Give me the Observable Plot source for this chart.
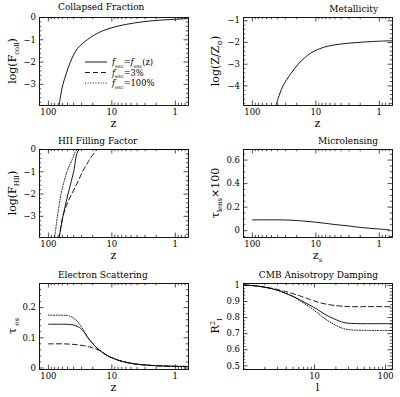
<!DOCTYPE html>
<html><head><meta charset="utf-8">
<script src="https://cdn.jsdelivr.net/npm/d3@7"></script>
<script src="https://cdn.jsdelivr.net/npm/@observablehq/plot@0.6"></script>
<style>
body{margin:0;background:#fff}
#c{position:relative;width:400px;height:397px}
#c svg{position:absolute;overflow:visible}
</style></head><body><div id="c"></div>
<script>
// ---------- data ----------
// Collapsed fraction, log F_coll vs z
const collZ = [68, 64, 59, 52, 45, 35, 24.4, 18.7, 14, 10, 6, 3.2, 2, 1, 0.62];
const collLogF = [-4, -3.5, -3, -2.5, -2, -1.4, -1, -0.78, -0.6, -0.46, -0.31, -0.19, -0.13, -0.08, -0.05];
// Metallicity, log(Z/Zsun) vs z
const metZ = [42.5, 38, 33, 25, 19, 15, 12.2, 10, 7.5, 5.8, 4, 3, 2, 1, 0.6];
const metLogZ = [-4.9, -4.45, -4, -3.45, -3, -2.7, -2.5, -2.36, -2.22, -2.14, -2.07, -2.03, -1.99, -1.94, -1.92];
// HII filling factor, log F_HII vs z (three escape fractions)
const hiiSolidZ = [68, 59, 49, 40, 32.5, 20, 10, 1, 0.6];
const hiiSolidF = [-4, -3, -2, -1, 0, 0, 0, 0, 0];
const hiiDashZ = [68, 59, 50, 43, 35, 29, 23, 19.5, 16.9, 10, 1, 0.6];
const hiiDashF = [-4, -3, -2.4, -2, -1.5, -1, -0.5, -0.2, 0, 0, 0, 0];
const hiiDotZ = [80, 72, 63, 51, 42, 35, 20, 10, 1, 0.6];
const hiiDotF = [-4, -3, -2, -1, -0.45, 0, 0, 0, 0, 0];
// Microlensing, tau_lens x 100 vs z_s
const lensZ = [100, 50, 30, 20, 10, 5, 3, 2, 1, 0.7];
const lensTau = [0.092, 0.092, 0.091, 0.086, 0.072, 0.052, 0.04, 0.028, 0.014, 0.009];
// Electron scattering, tau_es vs z
const esSolidZ = [100, 60, 45, 38, 34, 31, 27, 24, 21, 18, 15, 12, 10, 8, 6, 4.5, 3.2, 2.2, 1.5, 1, 0.62];
const esSolidTau = [0.145, 0.145, 0.144, 0.141, 0.137, 0.131, 0.118, 0.101, 0.086, 0.07, 0.056, 0.042, 0.034, 0.026, 0.019, 0.014, 0.0105, 0.008, 0.0065, 0.0055, 0.005];
const esDotZ = [100, 60, 50, 44, 40, 35, 31, 28, 26, 24, 21, 18, 15, 12, 10, 8, 6, 4.5, 3.2, 2.2, 1.5, 1, 0.62];
const esDotTau = [0.175, 0.175, 0.174, 0.17, 0.165, 0.155, 0.14, 0.126, 0.112, 0.101, 0.086, 0.07, 0.056, 0.042, 0.034, 0.026, 0.019, 0.014, 0.0105, 0.008, 0.0065, 0.0055, 0.005];
const esDashZ = [100, 60, 45, 35, 28, 24, 21, 18.5, 16.5, 15, 12, 10, 8, 6, 4.5, 3.2, 2.2, 1.5, 1, 0.62];
const esDashTau = [0.08, 0.08, 0.079, 0.077, 0.074, 0.071, 0.068, 0.064, 0.06, 0.056, 0.042, 0.034, 0.026, 0.019, 0.014, 0.0105, 0.008, 0.0065, 0.0055, 0.005];
// CMB anisotropy damping, R_l^2 vs l
const cmbL = [1, 1.5, 2.15, 3, 3.7, 5, 6.3, 8.5, 10.9, 14, 18.7, 25.8, 32, 45, 70, 125];
const cmbSolidR = [1.003, 0.997, 0.986, 0.97, 0.955, 0.932, 0.909, 0.878, 0.851, 0.82, 0.793, 0.769, 0.764, 0.762, 0.762, 0.762];
const cmbDashR = [1.003, 0.997, 0.987, 0.975, 0.965, 0.948, 0.934, 0.914, 0.897, 0.885, 0.876, 0.87, 0.868, 0.868, 0.868, 0.868];
const cmbDotR = [1.003, 0.997, 0.986, 0.97, 0.955, 0.93, 0.903, 0.866, 0.83, 0.793, 0.758, 0.731, 0.724, 0.721, 0.72, 0.72];
// tick labels
const zTickLabels = [100, 10, 1];
const lTickLabels = [10, 100];
const legendLabels = [[["f", "it"], ["esc", "sub"], ["=", ""], ["f", "it"], ["esc", "sub"], ["(z)", ""]],
                      [["f", "it"], ["esc", "sub"], ["=3%", ""]],
                      [["f", "it"], ["esc", "sub"], ["=100%", ""]]];

// ---------- drawing ----------
const FONT = '"DejaVu Serif", serif';
const DASH = "5,3", DOT = "1,1.6";
const root = document.getElementById("c");

function logTicks(domain, major) {
  const [a, b] = d3.extent(domain), out = [];
  for (let e = -2; e <= 3; e++) for (let m = 1; m < 10; m++) {
    const v = m * 10 ** e;
    if (v >= a * 0.999 && v <= b * 1.001 && ((m === 1) === major)) out.push(v);
  }
  return out;
}
function linTicks(domain, step) {
  const [a, b] = d3.extent(domain), out = [];
  for (let k = Math.ceil(a / step - 1e-6); k * step <= b + 1e-9; k++) out.push(+(k * step).toFixed(6));
  return out;
}
function rich(sel, parts, size, subShift = 3) {
  let shift = 0;
  parts.forEach(([t, k]) => {
    const target = k === "sub" ? subShift : k === "sup" ? -4 : 0;
    const sp = sel.append("tspan").attr("dy", target - shift).text(t);
    shift = target;
    if (k === "sub" || k === "sup") sp.attr("font-size", size * 0.62);
    if (k === "it") sp.attr("font-style", "italic");
  });
}

function panel(cfg) {
  const col = cfg.col, row = cfg.row;
  const left = col * 200, top = [0, 133, 266][row], height = row === 2 ? 131 : 133;
  const mt = [17, 16, 17][row], mb = [28, 29, 28][row];
  const ml = col === 0 ? 39 : 43, mr = col === 0 ? 12 : 8;
  const Wp = 200 - ml - mr, Hp = height - mt - mb;
  const xMaj = logTicks(cfg.xDomain, true);
  const xMin = logTicks(cfg.xDomain, false);
  const yMaj = cfg.yMajor, yMin = linTicks(cfg.yDomain, cfg.yMinor).filter(v => !yMaj.some(m => Math.abs(m - v) < 1e-9));
  const tk = {stroke: "black", strokeWidth: 0.7};
  const marks = [
    Plot.tickX(xMaj, {x: d => d, insetTop: Hp - 4.5, ...tk}),
    Plot.tickX(xMaj, {x: d => d, insetBottom: Hp - 4.5, ...tk}),
    Plot.tickX(xMin, {x: d => d, insetTop: Hp - 2.2, ...tk}),
    Plot.tickX(xMin, {x: d => d, insetBottom: Hp - 2.2, ...tk}),
    Plot.tickY(yMaj, {y: d => d, insetRight: Wp - 4.5, ...tk}),
    Plot.tickY(yMaj, {y: d => d, insetLeft: Wp - 4.5, ...tk}),
    Plot.tickY(yMin, {y: d => d, insetRight: Wp - 2.2, ...tk}),
    Plot.tickY(yMin, {y: d => d, insetLeft: Wp - 2.2, ...tk}),
    Plot.axisX({ticks: cfg.xLabels, tickSize: 0, tickPadding: 3, tickFormat: d => String(d), fontSize: 8.5, label: null}),
    Plot.axisY({ticks: cfg.yLabels, tickSize: 0, tickPadding: 3.5, tickFormat: cfg.yFmt, fontSize: 8.5, label: null}),
    ...cfg.series.map(s => Plot.line(s.x, {x: s.x, y: s.y, stroke: "black", strokeWidth: 0.9, strokeDasharray: s.dash, curve: "catmull-rom", clip: true})),
    Plot.frame({stroke: "black", strokeWidth: 0.9})
  ];
  const svg = Plot.plot({
    width: 200, height, marginTop: mt, marginBottom: mb, marginLeft: ml, marginRight: mr,
    x: {type: "log", domain: cfg.xDomain},
    y: {domain: cfg.yDomain},
    style: {fontFamily: FONT, fontSize: "8.5px", color: "black", background: "transparent"},
    marks
  });
  svg.style.left = left + "px";
  svg.style.top = top + "px";
  root.appendChild(svg);
  const s = d3.select(svg);
  // title
  s.append("text").attr("x", col === 0 ? 58 : 178).attr("y", mt - (row === 0 && col === 0 ? 7.5 : 5.5))
    .attr("text-anchor", col === 0 ? "start" : "end").attr("font-family", FONT).attr("font-size", 9)
    .attr("fill", "black").text(cfg.title);
  // x label
  rich(s.append("text").attr("x", ml + Wp / 2).attr("y", mt + Hp + 22).attr("text-anchor", "middle")
    .attr("font-family", FONT).attr("font-size", 11).attr("fill", "black"), cfg.xLabel, 11);
  // y label
  rich(s.append("text").attr("transform", `translate(${col === 0 ? 16 : 19},${mt + Hp / 2}) rotate(-90)`)
    .attr("text-anchor", "middle").attr("font-family", FONT).attr("font-size", 11).attr("fill", "black"), cfg.yLabel, 11);
  return {s, ml, mt, Wp, Hp};
}

const zDomain = [138, 0.62];
const intFmt = d => d3.format("d")(d).replace("-", "\u2212");

const p1 = panel({col: 0, row: 0, title: "Collapsed Fraction", xDomain: zDomain, xLabels: zTickLabels,
  yDomain: [-3.95, 0], yMajor: [-3, -2, -1, 0], yMinor: 0.2, yLabels: [-3, -2, -1, 0], yFmt: intFmt,
  xLabel: [["z", ""]], yLabel: [["log(F", ""], ["coll", "sub"], [")", ""]],
  series: [{x: collZ, y: collLogF}]});

panel({col: 1, row: 0, title: "Metallicity", xDomain: zDomain, xLabels: zTickLabels,
  yDomain: [-4.9, -0.85], yMajor: [-4, -3, -2, -1], yMinor: 0.2, yLabels: [-4, -3, -2, -1], yFmt: intFmt,
  xLabel: [["z", ""]], yLabel: [["log(Z/Z", ""], ["\u2299", "sub"], [")", ""]],
  series: [{x: metZ, y: metLogZ}]});

panel({col: 0, row: 1, title: "HII Filling Factor", xDomain: zDomain, xLabels: zTickLabels,
  yDomain: [-3.95, 0], yMajor: [-3, -2, -1, 0], yMinor: 0.2, yLabels: [-3, -2, -1, 0], yFmt: intFmt,
  xLabel: [["z", ""]], yLabel: [["log(F", ""], ["HII", "sub"], [")", ""]],
  series: [{x: hiiSolidZ, y: hiiSolidF}, {x: hiiDashZ, y: hiiDashF, dash: DASH}, {x: hiiDotZ, y: hiiDotF, dash: DOT}]});

panel({col: 1, row: 1, title: "Microlensing", xDomain: zDomain, xLabels: zTickLabels,
  yDomain: [-0.058, 0.69], yMajor: [0, 0.2, 0.4, 0.6], yMinor: 0.05, yLabels: [0, 0.2, 0.4, 0.6], yFmt: d => d === 0 ? "0" : d.toFixed(1),
  xLabel: [["z", ""], ["s", "sub"]], yLabel: [["\u03c4", ""], ["lens", "sub"], ["\u00d7100", ""]],
  series: [{x: lensZ, y: lensTau}]});

panel({col: 0, row: 2, title: "Electron Scattering", xDomain: zDomain, xLabels: zTickLabels,
  yDomain: [-0.005, 0.28], yMajor: [0, 0.1, 0.2], yMinor: 0.02, yLabels: [0, 0.1, 0.2], yFmt: d => d === 0 ? "0" : d.toFixed(1),
  xLabel: [["z", ""]], yLabel: [["\u03c4", ""], [" es", "sub"]],
  series: [{x: esSolidZ, y: esSolidTau}, {x: esDashZ, y: esDashTau, dash: DASH}, {x: esDotZ, y: esDotTau, dash: DOT}]});

panel({col: 1, row: 2, title: "CMB Anisotropy Damping", xDomain: [1, 125], xLabels: lTickLabels,
  yDomain: [0.477, 1.012], yMajor: [0.5, 0.6, 0.7, 0.8, 0.9, 1], yMinor: 0.02, yLabels: [0.5, 0.6, 0.7, 0.8, 0.9, 1], yFmt: d => d === 1 ? "1" : d.toFixed(1),
  xLabel: [["l", ""]], yLabel: [["R", ""], ["2", "sup"], ["l", "sub"]],
  series: [{x: cmbL, y: cmbSolidR}, {x: cmbL, y: cmbDashR, dash: DASH}, {x: cmbL, y: cmbDotR, dash: DOT}]});

// legend inside the Collapsed Fraction panel
const lg = p1.s.append("g").attr("font-family", FONT).attr("font-size", 8.3).attr("fill", "black").attr("text-anchor", "start");
[null, DASH, DOT].forEach((dash, i) => {
  const y = 62 + i * 10.5;
  lg.append("line").attr("x1", 85).attr("x2", 107).attr("y1", y).attr("y2", y)
    .attr("stroke", "black").attr("stroke-width", 0.9).attr("stroke-dasharray", dash);
  rich(lg.append("text").attr("x", 112).attr("y", y + 3).attr("fill", "black").attr("text-anchor", "start"), legendLabels[i], 8.3, 2.5);
});
</script></body></html>
